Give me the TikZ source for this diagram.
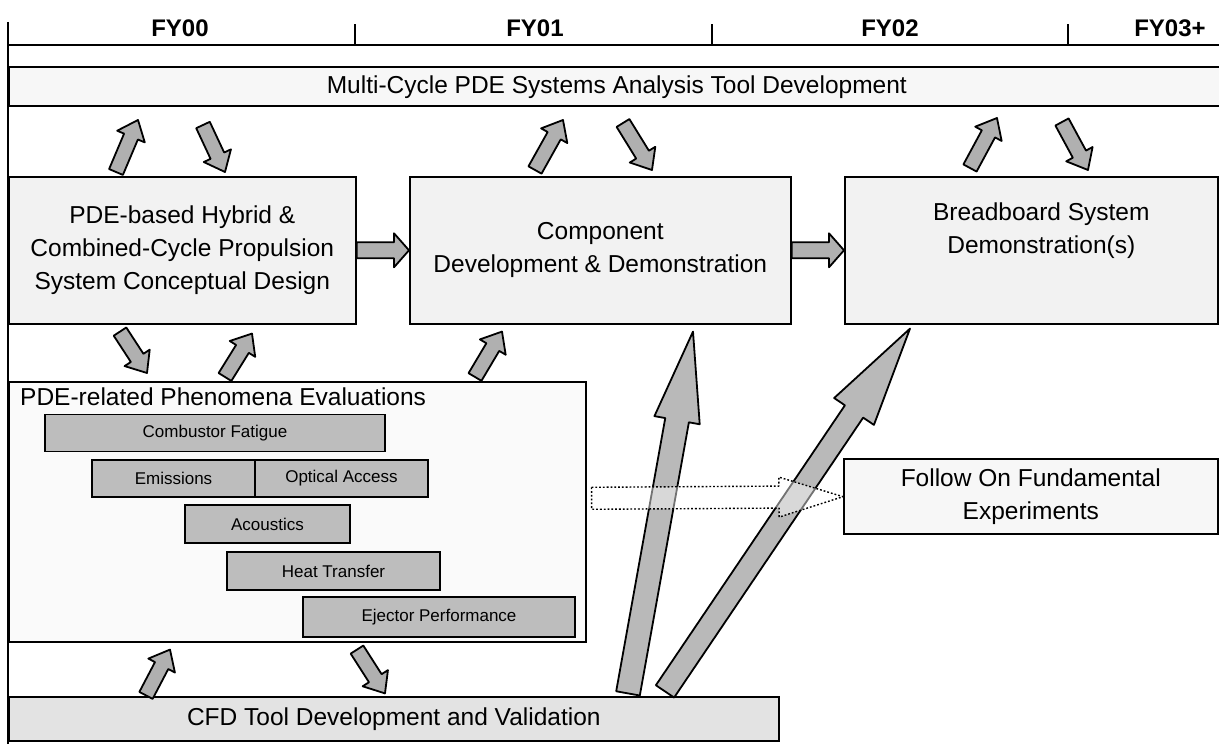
\documentclass[tikz,border=0pt]{standalone}
\usepackage{fontspec}
\setmainfont{Liberation Sans}
\usetikzlibrary{calc}

% block arrow: [style]{from}{to}{half shaft}{half head}{head length}
\newcommand\fatarrow[6][]{%
  \draw[fat,#1] let \p1=#2, \p2=#3, \n1={atan2(\y2-\y1,\x2-\x1)}, \n2={veclen(\x2-\x1,\y2-\y1)} in
    ($(\p1)+(\n1+90:#4)$) -- ++(\n1:{\n2-#6}) -- ++(\n1+90:{#5-#4}) -- (\p2)
    -- ($(\p1)+(\n1:{\n2-#6})+(\n1-90:#5)$) -- ++(\n1+90:{#5-#4}) -- ($(\p1)+(\n1-90:#4)$) -- cycle;}

\begin{document}
\begin{tikzpicture}[x=1pt,y=1pt,
  every node/.style={font=\fontsize{24.5}{33}\selectfont,inner sep=0pt},
  box/.style={draw,line width=1.6pt,fill=gray!10},
  bar/.style={draw,line width=1.6pt,fill=gray!52,minimum height=37,font=\fontsize{17}{20}\selectfont},
  fat/.style={draw,line width=1.8pt,fill=gray!62,line join=round},
  faint/.style={dotted,line width=1.4pt,fill=white,fill opacity=.45}]

  \useasboundingbox (0,0) rectangle (1219,744);

  % time line
  \draw[line width=1.6pt] (8,722) -- (8,0) (8,699) -- (1219,699);
  \foreach \x in {355,712,1068} \draw[line width=1.4pt] (\x,699) -- (\x,720);
  \foreach \x/\yr in {180/FY00,535/FY01,890/FY02,1170/FY03+}
    \node[font=\fontsize{24}{28}\selectfont\bfseries] (fy\x) at (\x,716) {\yr};

  % boxes
  \node[box,fill=gray!6,minimum width=1216,minimum height=39,anchor=south west] (mc) at (8,637)
    {Multi-Cycle PDE Systems Analysis Tool Development};
  \node[box,minimum width=347,minimum height=147,anchor=north west,align=center] (hyb) at (8,568)
    {PDE-based Hybrid \&\\Combined-Cycle Propulsion\\System Conceptual Design};
  \node[box,minimum width=381,minimum height=147,anchor=north west,align=center] (comp) at (409,568)
    {Component\\Development \& Demonstration};
  \node[box,minimum width=373,minimum height=147,anchor=north west] (brd) at (844,568) {};
  \node[align=center] (brdtext) at ([shift={(10,20)}]brd.center) {Breadboard System\\Demonstration(s)};
  \node[box,fill=gray!4,minimum width=577,minimum height=260,anchor=north west] (pde) at (8,363) {};
  \node[anchor=west] (pdetitle) at (20,347) {PDE-related Phenomena Evaluations};
  \node[box,fill=gray!22,minimum width=770,minimum height=44,anchor=south west] (cfd) at (8,2)
    {CFD Tool Development and Validation};
  \node[box,fill=gray!6,minimum width=374,minimum height=75,anchor=south west,align=center] (fol) at (843,209)
    {Follow On Fundamental\\Experiments};

  % phenomena bars
  \node[bar,minimum width=340] (fatigue) at (215,311) {Combustor Fatigue};
  \node[bar,minimum width=163] (emis) at (173.5,265.5) {Emissions};
  \node[bar,minimum width=173] (optic) at (341.5,265.5) {Optical Access};
  \node[bar,minimum width=165,minimum height=38] (acou) at (267.5,220) {Acoustics};
  \node[bar,minimum width=213,minimum height=38] (heat) at (333.5,173) {Heat Transfer};
  \node[bar,minimum width=272,minimum height=40] (eject) at (439,127) {Ejector Performance};

  % arrows to and from the analysis tool
  \fatarrow{([shift={(108,4)}]hyb.north west)}{([shift={(130,-13)}]mc.south west)}{7.5}{15}{18}
  \fatarrow{([shift={(195,-18)}]mc.south west)}{([shift={(217,4)}]hyb.north west)}{7.5}{15}{18}
  \fatarrow{([shift={(126,6)}]comp.north west)}{([shift={(555,-13)}]mc.south west)}{7.5}{15}{18}
  \fatarrow{([shift={(615,-16)}]mc.south west)}{([shift={(243,6)}]comp.north west)}{7.5}{15}{18}
  \fatarrow{([shift={(126,8)}]brd.north west)}{([shift={(989,-11)}]mc.south west)}{7.5}{15}{18}
  \fatarrow{([shift={(1054,-15)}]mc.south west)}{([shift={(244,6)}]brd.north west)}{7.5}{15}{18}

  % design flow
  \fatarrow{(hyb.east)}{(comp.west)}{8}{17}{15}
  \fatarrow{(comp.east)}{(brd.west)}{8}{17}{15}

  % phenomena and cfd
  \fatarrow{([shift={(112,-7)}]hyb.south west)}{([shift={(139,8)}]pde.north west)}{7.5}{15}{18}
  \fatarrow{([shift={(217,4)}]pde.north west)}{([shift={(244,-9)}]hyb.south west)}{7.5}{15}{18}
  \fatarrow{([shift={(467,4)}]pde.north west)}{([shift={(93,-7)}]comp.south west)}{7.5}{15}{18}
  \fatarrow{([shift={(138,1)}]cfd.north west)}{([shift={(162,-7)}]pde.south west)}{7.5}{15}{18}
  \fatarrow{([shift={(349,-7)}]pde.south west)}{([shift={(377,3)}]cfd.north west)}{7.5}{15}{18}
  \fatarrow[fill=gray!55]{([shift={(620,3)}]cfd.north west)}{([shift={(284,-7)}]comp.south west)}{12}{23}{90}
  \fatarrow[fill=gray!55]{([shift={(657,5)}]cfd.north west)}{([shift={(66,-4)}]brd.south west)}{11}{24}{100}

  % follow on
  \fatarrow[faint]{([shift={(5,13.5)}]pde.east)}{(fol.west)}{11}{20}{64}
\end{tikzpicture}
\end{document}
